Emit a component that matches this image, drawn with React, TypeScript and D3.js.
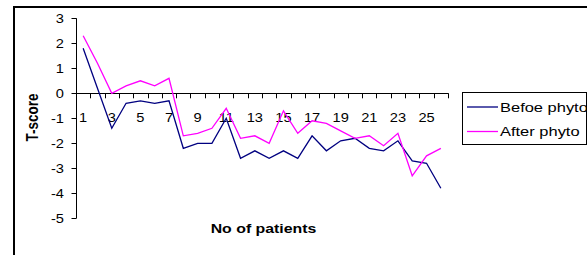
import React from 'react';
import * as d3 from 'd3';

// patient numbers along the x axis
const patients: number[] = [
  1, 2, 3, 4, 5, 6, 7, 8, 9, 10, 11, 12, 13, 14, 15, 16, 17, 18, 19, 20, 21,
  22, 23, 24, 25, 26,
];
const beforePhyto: number[] = [
  1.8, 0.2, -1.4, -0.4, -0.3, -0.4, -0.3, -2.2, -2.0, -2.0, -1.0, -2.6, -2.3,
  -2.6, -2.3, -2.6, -1.7, -2.3, -1.9, -1.8, -2.2, -2.3, -1.9, -2.7, -2.8, -3.8,
];
const afterPhyto: number[] = [
  2.3, 1.2, 0.0, 0.3, 0.5, 0.3, 0.6, -1.7, -1.6, -1.4, -0.6, -1.8, -1.7, -2.0,
  -0.7, -1.6, -1.1, -1.2, -1.5, -1.8, -1.7, -2.1, -1.6, -3.3, -2.5, -2.2,
];
const yTicks: number[] = [3, 2, 1, 0, -1, -2, -3, -4, -5];
const seriesNames: string[] = ['Befoe phyto', 'After phyto'];
const seriesColors: string[] = ['#000080', '#ff00ff'];

const W = 587;
const H = 255;
const FONT = "'Liberation Sans', Arial, sans-serif";
const SX = 1.22; // the picture is stretched sideways a bit

const App: React.FC = () => {
  const x = d3
    .scaleBand<number>()
    .domain(patients)
    .range([76, 448])
    .paddingInner(0)
    .paddingOuter(0);
  const y = d3.scaleLinear().domain([-5, 3]).range([218.3, 18.3]);
  const cx = (p: number): number => (x(p) ?? 0) + x.bandwidth() / 2;

  const line = d3
    .line<number>()
    .x((_, i) => cx(patients[i]))
    .y((d) => y(d));

  const boundaries = patients.map((p) => x(p) ?? 0).concat([x.range()[1]]);
  const series = [beforePhyto, afterPhyto];

  return (
    <svg
      width={W}
      height={H}
      style={{ position: 'absolute', left: 0, top: 0, background: '#fff' }}
      fontFamily={FONT}
    >
      <rect x={0} y={0} width={W} height={H} fill="#fff" />
      {/* outer chart frame */}
      <rect
        x={14}
        y={7}
        width={W + 20}
        height={H + 20}
        fill="none"
        stroke="#000"
        strokeWidth={2}
      />

      {/* y axis */}
      <line x1={76.5} x2={76.5} y1={y(3)} y2={y(-5)} stroke="#000" />
      {yTicks.map((t) => (
        <g key={t}>
          <line
            x1={71.5}
            x2={76.5}
            y1={Math.round(y(t)) + 0.5}
            y2={Math.round(y(t)) + 0.5}
            stroke="#000"
          />
          <text
            transform={`translate(64,${y(t) + 4.2}) scale(${SX},1)`}
            fontSize={12}
            textAnchor="end"
          >
            {t}
          </text>
        </g>
      ))}

      {/* x axis at zero */}
      <line
        x1={76}
        x2={448.5}
        y1={Math.round(y(0)) + 0.5}
        y2={Math.round(y(0)) + 0.5}
        stroke="#000"
      />
      {boundaries.map((b, i) => (
        <line
          key={i}
          x1={Math.round(b) + 0.5}
          x2={Math.round(b) + 0.5}
          y1={y(0)}
          y2={y(0) + 5}
          stroke="#000"
        />
      ))}
      {patients
        .filter((p) => p % 2 === 1)
        .map((p) => (
          <text
            key={p}
            transform={`translate(${cx(p)},122) scale(${SX},1)`}
            fontSize={12}
            textAnchor="middle"
          >
            {p}
          </text>
        ))}

      {/* series lines */}
      {series.map((s, i) => (
        <path
          key={i}
          d={line(s) ?? ''}
          fill="none"
          stroke={seriesColors[i]}
          strokeWidth={1.3}
        />
      ))}

      {/* axis titles */}
      <text
        transform={`translate(263.5,233) scale(${SX},1)`}
        fontSize={13}
        fontWeight="bold"
        textAnchor="middle"
      >
        No of patients
      </text>
      <text
        transform={`translate(38,117.5) rotate(-90) scale(1,${SX})`}
        fontSize={13.5}
        fontWeight="bold"
        textAnchor="middle"
      >
        T-score
      </text>

      {/* legend */}
      <rect
        x={462.5}
        y={92.5}
        width={124}
        height={52}
        fill="#fff"
        stroke="#000"
      />
      {seriesNames.map((n, i) => (
        <g key={n}>
          <line
            x1={467}
            x2={498}
            y1={107 + i * 24.5}
            y2={107 + i * 24.5}
            stroke={seriesColors[i]}
            strokeWidth={1.3}
          />
          <text
            transform={`translate(500,${107 + i * 24.5 + 4.7}) scale(${SX},1)`}
            fontSize={13.5}
          >
            {n}
          </text>
        </g>
      ))}
    </svg>
  );
};

export default App;
